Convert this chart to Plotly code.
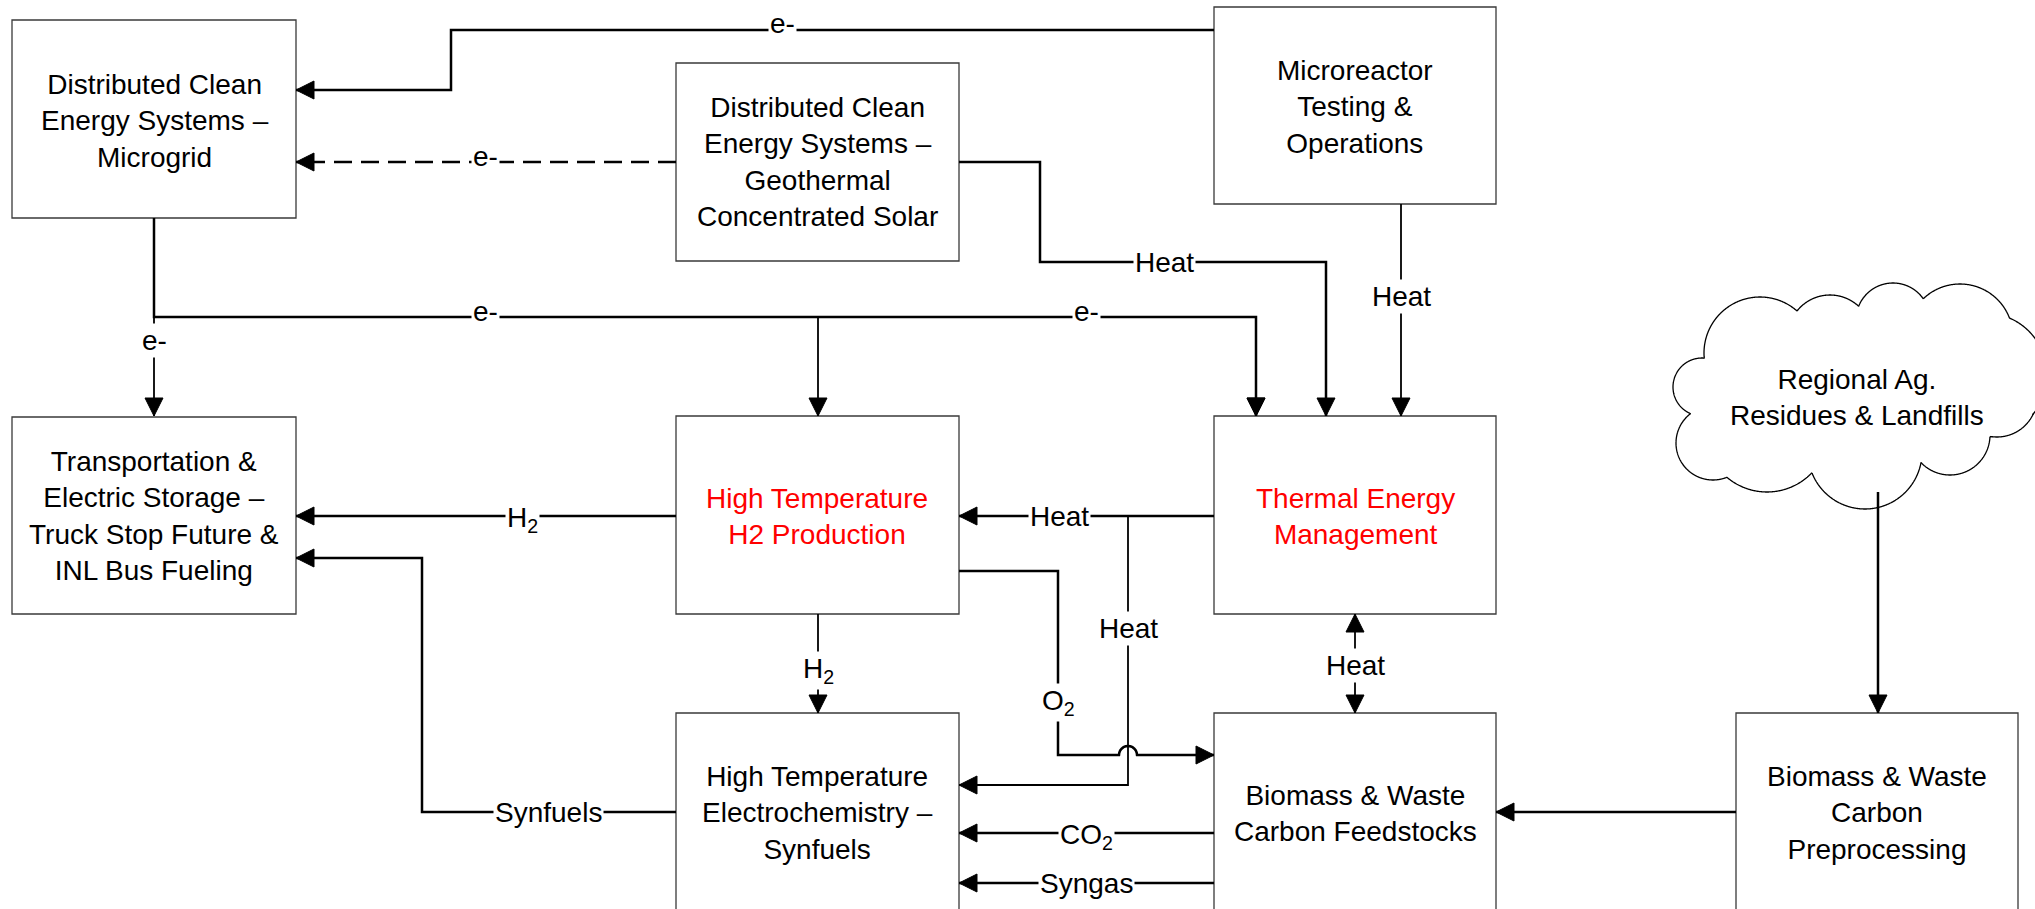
import numpy as np
import plotly.graph_objects as go

# ---------------- data: nodes and flows ----------------
node_ids = ["microgrid", "geothermal", "microreactor", "transport", "h2prod",
            "thermal", "electrochem", "feedstock", "preproc"]
node_texts = [
    "Distributed Clean<br>Energy Systems –<br>Microgrid",
    "Distributed Clean<br>Energy Systems –<br>Geothermal<br>Concentrated Solar",
    "Microreactor<br>Testing &<br>Operations",
    "Transportation &<br>Electric Storage –<br>Truck Stop Future &<br>INL Bus Fueling",
    "High Temperature<br>H2 Production",
    "Thermal Energy<br>Management",
    "High Temperature<br>Electrochemistry –<br>Synfuels",
    "Biomass & Waste<br>Carbon Feedstocks",
    "Biomass & Waste<br>Carbon<br>Preprocessing",
]
node_text_colors = ["black", "black", "black", "black", "#FF0000",
                    "#FF0000", "black", "black", "black"]
cloud_text = "Regional Ag.<br>Residues & Landfills"

flow_ids = ["reactor_e", "geo_e", "geo_heat", "reactor_heat", "grid_e",
            "grid_h2", "grid_thermal", "grid_transport", "h2_transport",
            "thermal_h2", "heat_branch", "o2", "h2_down", "heat_bi",
            "co2", "syngas", "synfuels", "preproc_feed", "cloud_pre"]
flow_labels = ["e-", "e-", "Heat", "Heat", "e-", "", "e-", "e-",
               "H<sub>2</sub>", "Heat", "Heat", "O<sub>2</sub>", "H<sub>2</sub>",
               "Heat", "CO<sub>2</sub>", "Syngas", "Synfuels", "", ""]

# ---------------- layout geometry (pixels, y downward) ----------------
box_geom = {
    "microgrid":    (12, 296, 20, 218),
    "geothermal":   (676, 959, 63, 261),
    "microreactor": (1214, 1496, 7, 204),
    "transport":    (12, 296, 417, 614),
    "h2prod":       (676, 959, 416, 614),
    "thermal":      (1214, 1496, 416, 614),
    "electrochem":  (676, 959, 713, 920),
    "feedstock":    (1214, 1496, 713, 920),
    "preproc":      (1736, 2018, 713, 920),
}
text_center = {
    "microgrid": (155, 121), "geothermal": (817, 162), "microreactor": (1355, 107),
    "transport": (154, 516), "h2prod": (817, 516), "thermal": (1355, 516),
    "electrochem": (817, 813), "feedstock": (1355, 813), "preproc": (1877, 813),
}
cloud_center_text = (1857, 397)

hop = [(1128 + 9 * np.cos(t), 755 - 9 * np.sin(t)) for t in np.linspace(np.pi, 0, 13)]

flow_geom = {
    "reactor_e":     dict(pts=[(1214, 30), (451, 30), (451, 90), (296, 90)], lab=(782, 23)),
    "geo_e":         dict(pts=[(676, 162), (296, 162)], lab=(485, 156), dash="18px,9px"),
    "geo_heat":      dict(pts=[(959, 162), (1040, 162), (1040, 262), (1326, 262), (1326, 416)], lab=(1164, 262)),
    "reactor_heat":  dict(pts=[(1401, 204), (1401, 416)], lab=(1401, 296), w=1.8),
    "grid_e":        dict(pts=[(154, 218), (154, 317), (1256, 317), (1256, 416)], lab=(485, 311), lab2=(1086, 311)),
    "grid_h2":       dict(pts=[(818, 317), (818, 416)], lab=None, w=1.8),
    "grid_thermal":  dict(pts=[(1256, 317), (1256, 416)], lab=None, w=1.8, noline=True),
    "grid_transport": dict(pts=[(154, 317), (154, 416)], lab=(154, 340), w=1.8),
    "h2_transport":  dict(pts=[(676, 516), (296, 516)], lab=(522, 519)),
    "thermal_h2":    dict(pts=[(1214, 516), (959, 516)], lab=(1059, 516)),
    "heat_branch":   dict(pts=[(1128, 516), (1128, 785), (959, 785)], lab=(1128, 628), w=1.8),
    "o2":            dict(pts=[(959, 571), (1058, 571), (1058, 755)] + hop + [(1214, 755)], lab=(1058, 702)),
    "h2_down":       dict(pts=[(818, 614), (818, 713)], lab=(818, 670), w=1.8),
    "heat_bi":       dict(pts=[(1355, 614), (1355, 713)], lab=(1355, 665), w=1.8, both=True),
    "co2":           dict(pts=[(1214, 833), (959, 833)], lab=(1086, 836)),
    "syngas":        dict(pts=[(1214, 883), (959, 883)], lab=(1086, 883)),
    "synfuels":      dict(pts=[(676, 812), (422, 812), (422, 558), (296, 558)], lab=(548, 812)),
    "preproc_feed":  dict(pts=[(1736, 812), (1496, 812)], lab=None),
    "cloud_pre":     dict(pts=[(1878, 492), (1878, 713)], lab=None),
}

cloud_circles = [(1702, 387, 29), (1760, 353, 56), (1830, 337, 42), (1893, 320, 37),
                 (1960, 337, 53), (1985, 375, 62), (1997, 397, 40), (1950, 435, 40),
                 (1865, 452, 57), (1767, 430, 62), (1713, 443, 37)]

FONT = "Liberation Sans, Arial, sans-serif"
FS = 28
MAIN_W = 2.5

fig = go.Figure()
shapes = []
annotations = []


def path_str(pts):
    return "M " + " L ".join(f"{x:.2f},{y:.2f}" for x, y in pts)


def arrow_head(tip, frm, L=18, hw=9):
    tx, ty = tip
    dx, dy = tx - frm[0], ty - frm[1]
    n = np.hypot(dx, dy)
    dx, dy = dx / n, dy / n
    bx, by = tx - L * dx, ty - L * dy
    px, py = -dy, dx
    p = [(tx, ty), (bx + hw * px, by + hw * py), (bx - hw * px, by - hw * py)]
    return dict(type="path", path=path_str(p) + " Z", fillcolor="black",
                line=dict(color="black", width=1), xref="x", yref="y", layer="above")


# boxes
for nid, txt, col in zip(node_ids, node_texts, node_text_colors):
    x0, x1, y0, y1 = box_geom[nid]
    shapes.append(dict(type="rect", x0=x0, x1=x1, y0=y0, y1=y1, xref="x", yref="y",
                       line=dict(color="#3a3a3a", width=1.3), fillcolor="white", layer="below"))
    cx, cy = text_center[nid]
    annotations.append(dict(x=cx, y=cy, xref="x", yref="y", text=txt, showarrow=False,
                            font=dict(family=FONT, size=FS, color=col),
                            xanchor="center", yanchor="middle", align="center"))

# cloud outline: union boundary of lobes
theta = np.linspace(0, 2 * np.pi, 721)
ecx, ecy, erx, ery = 1855, 395, 140, 55
for i, (cx, cy, r) in enumerate(cloud_circles):
    xs = cx + r * np.cos(theta)
    ys = cy + r * np.sin(theta)
    keep = np.ones_like(xs, dtype=bool)
    for j, (ox, oy, orr) in enumerate(cloud_circles):
        if j == i:
            continue
        keep &= (xs - ox) ** 2 + (ys - oy) ** 2 > (orr - 0.3) ** 2
    keep &= ((xs - ecx) / erx) ** 2 + ((ys - ecy) / ery) ** 2 > 1
    idx = np.where(keep)[0]
    if len(idx) == 0:
        continue
    runs = []
    cur = [idx[0]]
    for k in idx[1:]:
        if k == cur[-1] + 1:
            cur.append(k)
        else:
            runs.append(cur)
            cur = [k]
    runs.append(cur)
    if len(runs) > 1 and runs[0][0] == 0 and runs[-1][-1] == len(theta) - 1:
        runs[0] = runs[-1] + runs[0]
        runs.pop()
    for run in runs:
        if len(run) < 2:
            continue
        pts = list(zip(xs[run], ys[run]))
        shapes.append(dict(type="path", path=path_str(pts), xref="x", yref="y",
                           line=dict(color="black", width=1.3)))
annotations.append(dict(x=cloud_center_text[0], y=cloud_center_text[1], xref="x", yref="y",
                        text=cloud_text, showarrow=False,
                        font=dict(family=FONT, size=FS, color="black"),
                        xanchor="center", yanchor="middle", align="center"))

# flows
for fid, lab in zip(flow_ids, flow_labels):
    g = flow_geom[fid]
    pts = g["pts"]
    w = g.get("w", MAIN_W)
    if not g.get("noline"):
        dash = g.get("dash", "solid")
        shapes.append(dict(type="path", path=path_str(pts), xref="x", yref="y",
                           line=dict(color="black", width=w, dash=dash)))
    shapes.append(arrow_head(pts[-1], pts[-2]))
    if g.get("both"):
        shapes.append(arrow_head(pts[0], pts[1]))
    for key in ("lab", "lab2"):
        pos = g.get(key)
        if pos is not None and lab:
            annotations.append(dict(x=pos[0], y=pos[1], xref="x", yref="y", text=lab,
                                    showarrow=False, bgcolor="white", borderpad=1,
                                    font=dict(family=FONT, size=FS, color="black"),
                                    xanchor="center", yanchor="middle"))

fig.update_layout(
    width=2035, height=909,
    margin=dict(l=0, r=0, t=0, b=0),
    paper_bgcolor="white", plot_bgcolor="white",
    xaxis=dict(range=[0, 2035], visible=False, fixedrange=True),
    yaxis=dict(range=[909, 0], visible=False, fixedrange=True),
    shapes=shapes, annotations=annotations, showlegend=False,
)

fig.write_html("out.html", config={"displayModeBar": False},
               post_script="document.body.style.margin='0px';document.body.style.overflow='hidden';")
